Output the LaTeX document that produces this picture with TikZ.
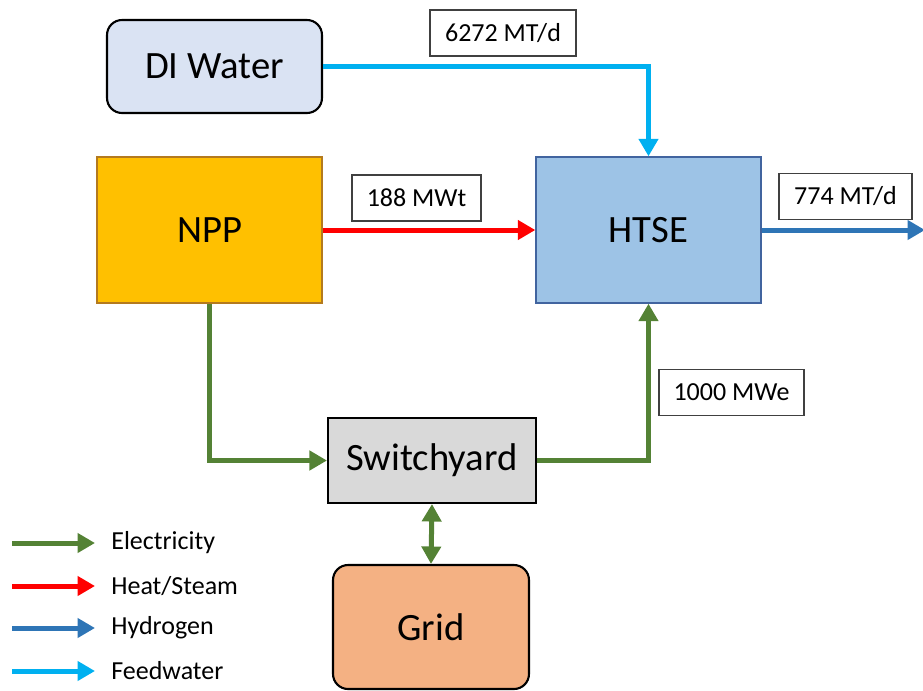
\documentclass[tikz,border=0pt]{standalone}
\usepackage{fontspec}
\setmainfont{Carlito}
\usetikzlibrary{arrows.meta,positioning}
\definecolor{elecgreen}{HTML}{548235}
\definecolor{heatred}{HTML}{FF0000}
\definecolor{htwoblue}{HTML}{2E75B6}
\definecolor{feedcyan}{HTML}{00B0F0}
\definecolor{waterfill}{HTML}{DAE3F3}
\definecolor{nppfill}{HTML}{FFC000}
\definecolor{nppline}{HTML}{B47A1E}
\definecolor{htsefill}{HTML}{9DC3E6}
\definecolor{htseline}{HTML}{41649F}
\definecolor{yardfill}{HTML}{D9D9D9}
\definecolor{gridfill}{HTML}{F4B183}

\begin{document}
\begin{tikzpicture}[x=0.02cm,y=-0.02cm,
        unit/.style={draw=black,line width=1.2pt,align=center,inner sep=0pt,
          font=\fontsize{22}{26}\selectfont},
        rbox/.style={unit,rounded corners=0.3cm},
        val/.style={draw=black!75,line width=0.6pt,fill=white,inner sep=0pt,
          minimum height=0.92cm,font=\fontsize{14.8}{17}\selectfont},
        legtext/.style={anchor=west,inner sep=0pt,font=\fontsize{14.8}{17}\selectfont},
        flow/.style={line width=0.1cm,-{Triangle[length=0.35cm,width=0.38cm]}},
        elec/.style={flow,elecgreen},
        heat/.style={flow,heatred},
        htwo/.style={flow,htwoblue},
        feed/.style={flow,feedcyan}]
        \clip (0,0) rectangle (923,690);
        \useasboundingbox (0,0) rectangle (923,690);
        % blocks
        \node[rbox,fill=waterfill,minimum width=4.3cm,minimum height=1.86cm](water) at (214.5,66.5){DI Water};
        \node[unit,draw=nppline,line width=0.8pt,fill=nppfill,minimum width=4.5cm,minimum height=2.92cm](npp) at (209.5,230){NPP};
        \node[unit,draw=htseline,line width=0.8pt,fill=htsefill,minimum width=4.5cm,minimum height=2.92cm](htse) at (648.5,230){HTSE};
        \node[unit,fill=yardfill,minimum width=4.16cm,minimum height=1.7cm](yard) at (432,460.5){Switchyard};
        \node[rbox,fill=gridfill,minimum width=3.92cm,minimum height=2.48cm](grid) at (431,627){Grid};
        % values
        \node[val,minimum width=2.92cm](fwval) at (503,33){6272 MT/d};
        \node[val,minimum width=2.58cm](heatval) at (416.5,198){188 MWt};
        \node[val,minimum width=2.66cm](h2val) at (845.5,196.5){774 MT/d};
        \node[val,minimum width=2.9cm](elval) at (731.5,392.5){1000 MWe};
        \coordinate (h2out) at (925,230);
        % flows
        \draw[feed](water.east)-|(htse.north);
        \draw[heat](npp.east)--(htse.west);
        \draw[htwo](htse.east)--(h2out);
        \draw[elec](npp.south)|-(yard.west);
        \draw[elec](yard.east)-|(htse.south);
        \draw[elec,{Triangle[length=0.35cm,width=0.38cm]}-{Triangle[length=0.35cm,width=0.38cm]}](yard.south)--(grid.north);
        % legend
        \node[legtext](lgel) at (111,543){Electricity};
        \node[legtext](lght) at (111,586){Heat/Steam};
        \node[legtext](lgh2) at (111,628){Hydrogen};
        \node[legtext](lgfw) at (111,671){Feedwater};
        \coordinate (sel) at (12,543);
        \coordinate (sht) at (12,586);
        \coordinate (sh2) at (12,628);
        \coordinate (sfw) at (12,671);
        \draw[elec](sel)--([xshift=-0.32cm]lgel.west);
        \draw[heat](sht)--([xshift=-0.32cm]lght.west);
        \draw[htwo](sh2)--([xshift=-0.32cm]lgh2.west);
        \draw[feed](sfw)--([xshift=-0.32cm]lgfw.west);
      \end{tikzpicture}
\end{document}
